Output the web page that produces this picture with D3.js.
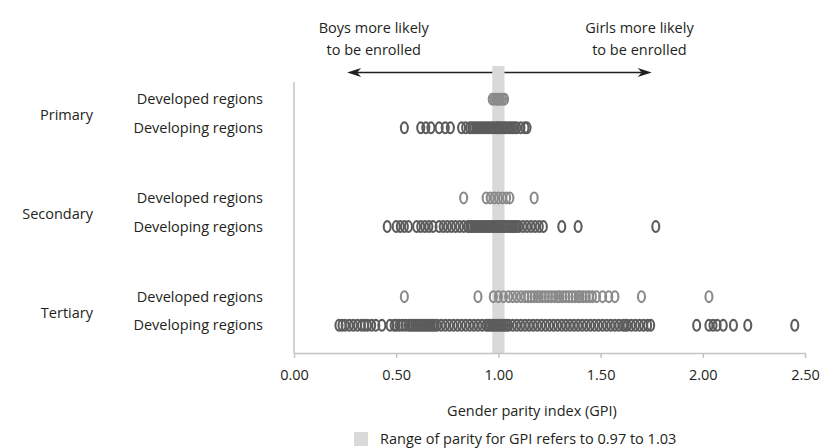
<!DOCTYPE html>
<html><head><meta charset="utf-8">
<script src="https://cdn.jsdelivr.net/npm/d3@7"></script>
<style>
body{margin:0;background:#fff}
text{font-family:"Open Sans",Lato,sans-serif;fill:#231f20}
</style>
</head><body>
<svg id="c" width="830" height="448"></svg>
<script>
const categories = ["Primary", "Secondary", "Tertiary"];
const regionGroups = ["Developed regions", "Developing regions"];
const xTicks = [0, 0.5, 1, 1.5, 2, 2.5];
const parityRange = [0.97, 1.03];
const arrowRange = [0.26, 1.75];
const topLabels = [
  {lines: ["Boys more likely", "to be enrolled"], at: 0.39},
  {lines: ["Girls more likely", "to be enrolled"], at: 1.69}
];
const axisTitle = "Gender parity index (GPI)";
const legendText = "Range of parity for GPI refers to 0.97 to 1.03";

const primaryDeveloped = [0.97, 0.98, 0.99, 1.00, 1.00, 1.01, 1.02, 1.03];
const primaryDeveloping = [0.54, 0.62, 0.645, 0.67, 0.71, 0.74, 0.765, 0.82, 0.84, 0.86, 0.87, 0.88, 0.89, 0.90, 0.91, 0.92, 0.93, 0.94, 0.95, 0.96, 0.97, 0.98, 0.99, 1.00, 1.00, 1.01, 1.02, 1.03, 1.04, 1.05, 1.06, 1.07, 1.08, 1.09, 1.11, 1.13, 1.14];
const secondaryDeveloped = [0.83, 0.94, 0.96, 0.98, 1.00, 1.02, 1.04, 1.056, 1.175];
const secondaryDeveloping = [0.456, 0.50, 0.52, 0.54, 0.56, 0.60, 0.62, 0.64, 0.66, 0.68, 0.71, 0.73, 0.75, 0.77, 0.79, 0.81, 0.83, 0.85, 0.86, 0.87, 0.88, 0.89, 0.90, 0.91, 0.92, 0.93, 0.94, 0.95, 0.96, 0.97, 0.98, 0.99, 1.00, 1.00, 1.01, 1.02, 1.03, 1.04, 1.05, 1.06, 1.07, 1.08, 1.09, 1.10, 1.12, 1.14, 1.16, 1.18, 1.20, 1.22, 1.31, 1.39, 1.77];
const tertiaryDeveloped = [0.54, 0.90, 0.975, 1.00, 1.025, 1.05, 1.07, 1.09, 1.11, 1.13, 1.145, 1.16, 1.175, 1.19, 1.20, 1.215, 1.23, 1.245, 1.26, 1.275, 1.29, 1.30, 1.315, 1.33, 1.345, 1.36, 1.375, 1.39, 1.40, 1.415, 1.43, 1.445, 1.46, 1.48, 1.51, 1.54, 1.57, 1.70, 2.03];
const tertiaryDeveloping = [0.22, 0.235, 0.25, 0.27, 0.29, 0.31, 0.33, 0.345, 0.36, 0.38, 0.40, 0.43, 0.47, 0.49, 0.50, 0.515, 0.53, 0.545, 0.56, 0.57, 0.58, 0.59, 0.60, 0.61, 0.62, 0.63, 0.64, 0.65, 0.66, 0.67, 0.68, 0.69, 0.70, 0.72, 0.74, 0.76, 0.78, 0.80, 0.82, 0.84, 0.86, 0.88, 0.90, 0.92, 0.94, 0.95, 0.96, 0.97, 0.98, 0.99, 1.00, 1.01, 1.02, 1.03, 1.04, 1.05, 1.07, 1.09, 1.11, 1.13, 1.15, 1.17, 1.19, 1.21, 1.23, 1.25, 1.27, 1.29, 1.31, 1.33, 1.35, 1.37, 1.39, 1.41, 1.43, 1.45, 1.47, 1.49, 1.51, 1.53, 1.55, 1.57, 1.59, 1.61, 1.62, 1.63, 1.65, 1.67, 1.69, 1.71, 1.73, 1.745, 1.97, 2.03, 2.05, 2.07, 2.10, 2.15, 2.22, 2.45];

const series = [
  {cat: "Primary", grp: "Developed regions", values: primaryDeveloped},
  {cat: "Primary", grp: "Developing regions", values: primaryDeveloping},
  {cat: "Secondary", grp: "Developed regions", values: secondaryDeveloped},
  {cat: "Secondary", grp: "Developing regions", values: secondaryDeveloping},
  {cat: "Tertiary", grp: "Developed regions", values: tertiaryDeveloped},
  {cat: "Tertiary", grp: "Developing regions", values: tertiaryDeveloping}
];

const FS = 14.5;
const svg = d3.select("#c");
const x = d3.scaleLinear().domain([0, 2.5]).range([294, 805]);
const yCat = d3.scalePoint().domain(categories).range([113.5, 311]);
const yGrp = d3.scalePoint().domain(regionGroups).range([-14.3, 14.3]);
const axisY = 353;
const color = d3.scaleOrdinal().domain(regionGroups).range(["#8a8a8a", "#5c5c5c"]);

// arrow
const ay = 72.5;
svg.append("line").attr("x1", x(arrowRange[0]) + 6).attr("x2", x(arrowRange[1]) - 6)
  .attr("y1", ay).attr("y2", ay).attr("stroke", "#231f20").attr("stroke-width", 1.3);
function head(tip, dir) {
  const L = 14, W = 4.5, N = 10;
  return `M${tip},${ay} L${tip + dir * L},${ay - W} L${tip + dir * N},${ay} L${tip + dir * L},${ay + W} Z`;
}
svg.append("path").attr("d", head(x(arrowRange[0]), 1)).attr("fill", "#231f20");
svg.append("path").attr("d", head(x(arrowRange[1]), -1)).attr("fill", "#231f20");

// top labels
topLabels.forEach(t => {
  const tx = svg.append("text").attr("text-anchor", "middle").attr("font-size", FS);
  t.lines.forEach((l, i) => tx.append("tspan").attr("x", x(t.at)).attr("y", 33 + i * 22).text(l));
});

// parity band
svg.append("rect").attr("x", x(parityRange[0])).attr("width", x(parityRange[1]) - x(parityRange[0]))
  .attr("y", 66).attr("height", axisY - 66).attr("fill", "#d9d9d9");

// vertical axis line
svg.append("line").attr("x1", x(0)).attr("x2", x(0)).attr("y1", 82).attr("y2", axisY)
  .attr("stroke", "#c4c4c4").attr("stroke-width", 1.5);

// x axis
const ax = svg.append("g").attr("transform", `translate(0,${axisY})`)
  .call(d3.axisBottom(x).tickValues(xTicks).tickFormat(d3.format(".2f")).tickSize(5).tickSizeOuter(0).tickPadding(12));
ax.select(".domain").attr("stroke", "#c4c4c4").attr("stroke-width", 1.5);
ax.selectAll(".tick line").attr("stroke", "#c4c4c4").attr("stroke-width", 1.5);
ax.selectAll(".tick text").attr("font-size", FS).attr("font-family", "'Open Sans', Lato, sans-serif").attr("fill", "#231f20");

// axis title
svg.append("text").attr("x", 532).attr("y", 416).attr("text-anchor", "middle").attr("font-size", FS).text(axisTitle);

// legend
svg.append("rect").attr("x", 354).attr("y", 432).attr("width", 14).attr("height", 14).attr("fill", "#d9d9d9");
svg.append("text").attr("x", 380).attr("y", 443.5).attr("font-size", FS).text(legendText);

// row labels
categories.forEach(c => {
  svg.append("text").attr("x", 93).attr("y", yCat(c) + 1.5).attr("dy", "0.35em")
    .attr("text-anchor", "end").attr("font-size", FS).text(c);
  regionGroups.forEach(g => {
    svg.append("text").attr("x", 263).attr("y", yCat(c) + yGrp(g)).attr("dy", "0.35em")
      .attr("text-anchor", "end").attr("font-size", FS).text(g);
  });
});

// points
series.forEach(s => {
  svg.append("g").selectAll("ellipse").data(s.values).join("ellipse")
    .attr("cx", d => x(d)).attr("cy", yCat(s.cat) + yGrp(s.grp))
    .attr("rx", 3.5).attr("ry", 5.4)
    .attr("fill", "none").attr("stroke", color(s.grp)).attr("stroke-width", 2.1);
});
</script>
</body></html>
